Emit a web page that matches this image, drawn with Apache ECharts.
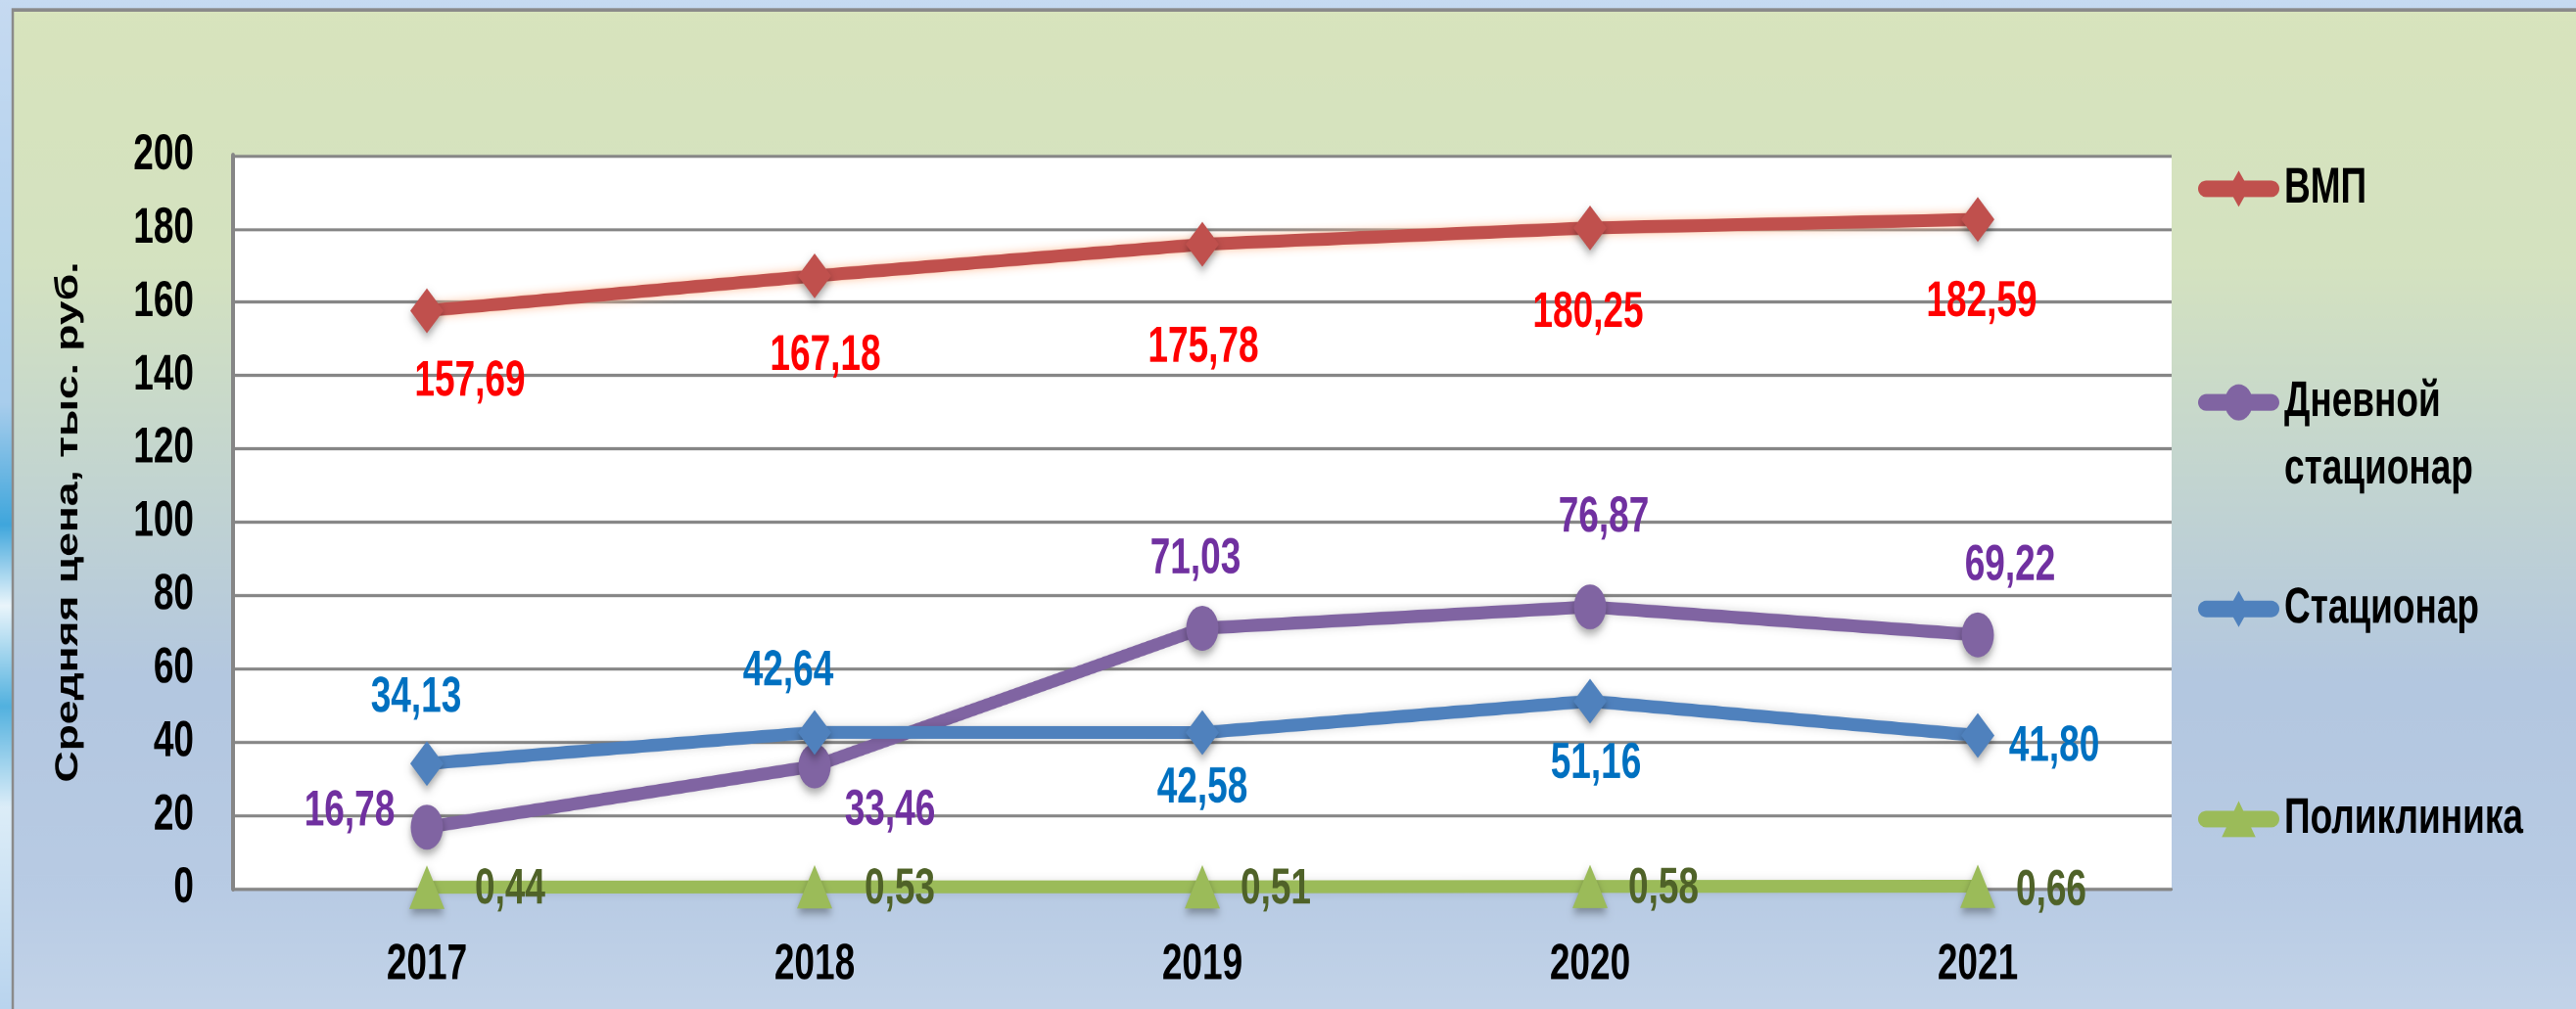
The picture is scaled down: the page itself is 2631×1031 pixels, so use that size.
<!DOCTYPE html>
<html>
<head>
<meta charset="utf-8">
<script src="https://cdn.jsdelivr.net/npm/echarts@6/dist/echarts.min.js"></script>
<style>
  html, body { margin: 0; padding: 0; }
  #frame { width: 2631px; height: 1031px; overflow: hidden; }
  /* the original picture is stretched vertically (round markers are ovals,
     text is tall and narrow), so the chart is drawn flat and stretched back */
  #chart {
    width: 2631px;
    height: 742px;
    transform: scaleY(1.3895);
    transform-origin: 0 0;
  }
</style>
</head>
<body>
<div id="frame"><div id="chart"></div></div>
<script>
// data
const years = ['2017', '2018', '2019', '2020', '2021']
const vmp = [157.69, 167.18, 175.78, 180.25, 182.59]
const dayHospital = [16.78, 33.46, 71.03, 76.87, 69.22]
const hospital = [34.13, 42.64, 42.58, 51.16, 41.80]
const clinic = [0.44, 0.53, 0.51, 0.58, 0.66]
const yMin = 0
const yMax = 200
const yStep = 20

// where each value label sits relative to its point (hand placed in the original)
const vmpLabelShift = [[44, 52.5], [11, 59], [1, 76], [-2, 62.5], [4, 61]]
const dayLabelShift = [[-79, -11.5], [77, 33], [-7, -50.5], [14, -65.5], [33, -50.5]]
const hospLabelShift = [[-11, -48], [-27, -45], [0, 41], [6, 46], [78, 8.5]]
const clinicLabelShift = [[85, 2], [87, 2], [75, 2], [75, 2], [75, 3.5]]

const font = '"Liberation Sans", Arial, sans-serif'
const gridGray = '#868686'

// legend icons: thick bar with the series marker in the middle
const bar = 'M8,10 L75,10 A8.5,8.5 0 0 1 75,27 L8,27 A8.5,8.5 0 0 1 8,10 Z '
const iconDiamond = 'path://' + bar + 'M31,18.5 L41.5,0 L52,18.5 L41.5,37 Z'
const iconCircle = 'path://' + bar + 'M27,18.5 A14.5,18.5 0 1 1 56,18.5 A14.5,18.5 0 1 1 27,18.5 Z'
const iconTriangle = 'path://' + bar + 'M41.5,0 L59,37 L24,37 Z'

function fmt(p) {
  return p.value.toFixed(2).replace('.', ',')
}

function makeSeries(name, values, shifts, color, labelColor, symbol, symbolSize, glow) {
  return {
    name,
    type: 'line',
    clip: false,
    data: values.map((v, i) => ({ value: v, label: { offset: shifts[i] } })),
    symbol,
    symbolSize,
    lineStyle: {
      color,
      width: 9.5,
      shadowColor: glow,
      shadowBlur: 7
    },
    itemStyle: {
      color,
      shadowColor: 'rgba(0,0,0,0.35)',
      shadowBlur: 7,
      shadowOffsetY: 3.5
    },
    label: {
      show: true,
      position: 'inside',
      formatter: fmt,
      color: labelColor,
      fontFamily: font,
      fontWeight: 'bold',
      fontSize: 37
    },
    emphasis: { disabled: true }
  }
}

function legendAt(name, icon, top) {
  return {
    data: [{ name, icon }],
    left: 2245,
    top,
    padding: 0,
    itemWidth: 83,
    itemHeight: 26.6,
    symbolKeepAspect: false,
    selectedMode: false,
    // first line next to the icon, second line below it
    formatter: (n) => n === 'Дневной стационар' ? '\nДневной\nстационар' : n,
    textStyle: {
      color: '#000',
      fontFamily: font,
      fontWeight: 'bold',
      fontSize: 37,
      lineHeight: 49.6
    }
  }
}

const chart = echarts.init(document.getElementById('chart'), null, { renderer: 'canvas', devicePixelRatio: 2 })

chart.setOption({
  animation: false,
  graphic: [
    {
      type: 'rect', z: -100, silent: true,
      shape: { x: 0, y: 0, width: 2631, height: 742 },
      style: {
        fill: new echarts.graphic.LinearGradient(0, 0, 0, 1, [
          { offset: 0, color: '#c6daf1' },
          { offset: 0.4, color: '#a8cdec' },
          { offset: 0.52, color: '#3fa6dc' },
          { offset: 0.6, color: '#eaf5fb' },
          { offset: 0.7, color: '#52b1df' },
          { offset: 0.8, color: '#dcedf8' },
          { offset: 1, color: '#b9d4ee' }
        ])
      }
    },
    {
      type: 'rect', z: -99, silent: true,
      shape: { x: 13, y: 7.2, width: 2660, height: 760 },
      style: {
        stroke: '#8a8a8a',
        lineWidth: 2.5,
        fill: new echarts.graphic.LinearGradient(0, 0, 0, 1, [
          { offset: 0, color: '#d8e4bd' },
          { offset: 0.25, color: '#d4e2c0' },
          { offset: 0.45, color: '#c3d5d0' },
          { offset: 0.65, color: '#b3c7e0' },
          { offset: 0.85, color: '#b8cbe4' },
          { offset: 1, color: '#c6d6ea' }
        ])
      }
    }
  ],
  grid: {
    left: 238,
    top: 114.4,
    right: 413,
    bottom: 88.5,
    show: true,
    backgroundColor: '#ffffff',
    borderWidth: 0
  },
  legend: [
    legendAt('ВМП', iconDiamond, 114),
    legendAt('Дневной стационар', iconCircle, 221.5),
    legendAt('Стационар', iconDiamond, 423),
    legendAt('Поликлиника', iconTriangle, 577.5)
  ],
  xAxis: {
    type: 'category',
    data: years,
    boundaryGap: true,
    axisLine: { show: true, lineStyle: { color: gridGray, width: 2.2 } },
    axisTick: { show: false },
    axisLabel: {
      color: '#000',
      fontFamily: font,
      fontWeight: 'bold',
      fontSize: 37,
      margin: 38
    }
  },
  yAxis: {
    type: 'value',
    min: yMin,
    max: yMax,
    interval: yStep,
    name: 'Средняя цена, тыс. руб.',
    nameLocation: 'middle',
    nameRotate: 90,
    nameGap: 152,
    nameTextStyle: {
      color: '#000',
      fontFamily: font,
      fontWeight: 'bold',
      fontSize: 32
    },
    axisLine: { show: true, lineStyle: { color: gridGray, width: 4 } },
    axisTick: { show: false },
    splitLine: { show: true, lineStyle: { color: gridGray, width: 2.2 } },
    axisLabel: {
      color: '#000',
      fontFamily: font,
      fontWeight: 'bold',
      fontSize: 37,
      margin: 40
    }
  },
  series: [
    makeSeries('ВМП', vmp, vmpLabelShift, '#c0504d', '#ff0000', 'diamond', [34, 33], 'rgba(255,190,150,0.9)'),
    makeSeries('Дневной стационар', dayHospital, dayLabelShift, '#8064a2', '#7030a0', 'circle', [33, 33], 'rgba(0,0,0,0.15)'),
    makeSeries('Стационар', hospital, hospLabelShift, '#4f81bd', '#0070c0', 'diamond', [34, 33], 'rgba(0,0,0,0.15)'),
    makeSeries('Поликлиника', clinic, clinicLabelShift, '#9bbb59', '#4f6228', 'triangle', [36, 32], 'rgba(0,0,0,0.1)')
  ]
})

window.addEventListener('resize', () => chart.resize())
</script>
</body>
</html>
